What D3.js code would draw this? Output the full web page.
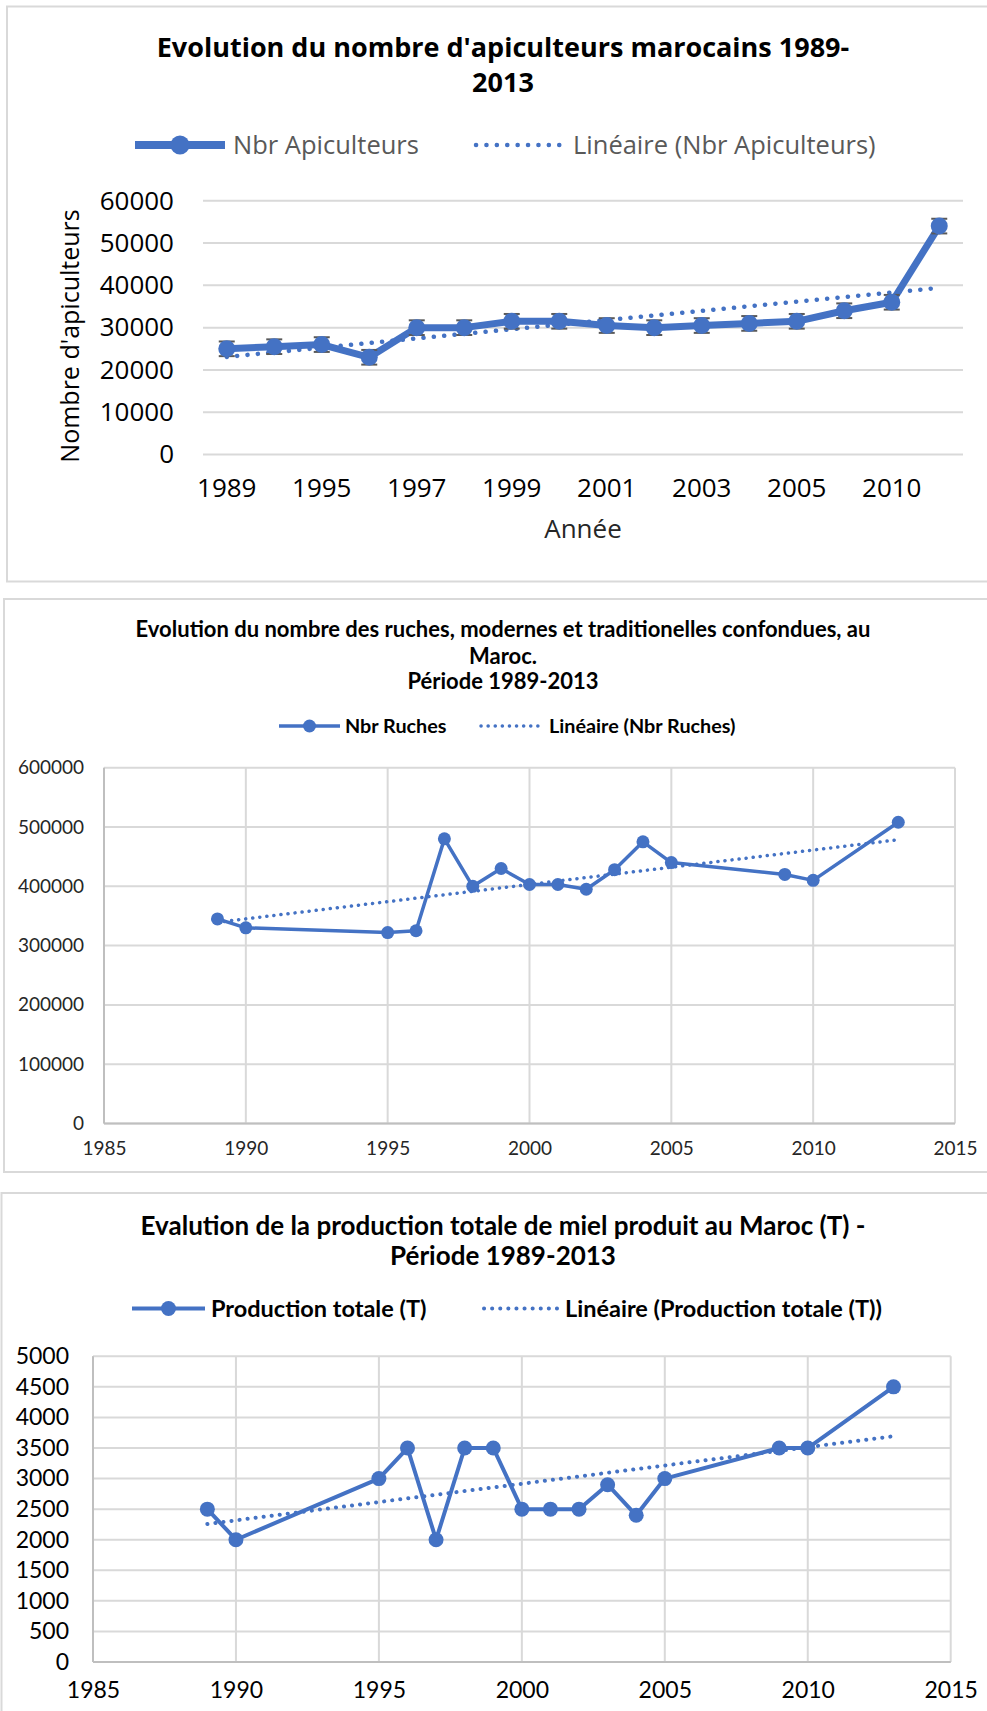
<!DOCTYPE html>
<html>
<head>
<meta charset="utf-8">
<script src="https://cdn.jsdelivr.net/npm/d3@7"></script>
<style>
  body { margin: 0; background: #fff; }
  svg { display: block; }
</style>
</head>
<body>
<div id="charts"></div>
<script>

// data
var years = [1989, 1990, 1995, 1996, 1997, 1998, 1999, 2000, 2001, 2002, 2003, 2004, 2005, 2009, 2010, 2013];
var apiculteurs = [25000, 25500, 26000, 23000, 30000, 30000, 31500, 31500, 30500, 30000, 30500, 31000, 31500, 34000, 36000, 54000];
var ruches = [345000, 330000, 322000, 325000, 480000, 400000, 430000, 403000, 403000, 395000, 428000, 475000, 440000, 420000, 410000, 508000];
var production = [2500, 2000, 3000, 3500, 2000, 3500, 3500, 2500, 2500, 2500, 2900, 2400, 3000, 3500, 3500, 4500];

var apiTicks = [0, 10000, 20000, 30000, 40000, 50000, 60000];
var apiYearLabels = ["1989", "1995", "1997", "1999", "2001", "2003", "2005", "2010"];
var ruchesTicks = [0, 100000, 200000, 300000, 400000, 500000, 600000];
var prodTicks = [0, 500, 1000, 1500, 2000, 2500, 3000, 3500, 4000, 4500, 5000];
var yearTicks = [1985, 1990, 1995, 2000, 2005, 2010, 2015];

var blue = "#4472C4";
var grid = "#d9d9d9";

var width = 987;
var height = 1711;

var svg = d3.select("#charts")
    .append("svg")
    .attr("width", width)
    .attr("height", height)
    .style("background", "#fff");

// least squares, like the excel "Linéaire" trendline
var linearFit = (xs, ys) => {
    let mx = d3.mean(xs), my = d3.mean(ys);
    let sxy = d3.sum(xs, (x, i) => (x - mx) * (ys[i] - my));
    let sxx = d3.sum(xs, x => (x - mx) * (x - mx));
    let slope = sxy / sxx;
    return x => my + slope * (x - mx);
};

var chartBox = (x, y, w, h) => {
    svg.append("rect")
        .attr("x", x).attr("y", y)
        .attr("width", w).attr("height", h)
        .attr("fill", "#fff")
        .attr("stroke", grid)
        .attr("stroke-width", 2);
};

var titleLines = (lines, cx, ys, size, font, color) => {
    lines.forEach((t, i) => {
        svg.append("text")
            .attr("x", cx).attr("y", ys[i])
            .attr("dy", "0.35em")
            .attr("text-anchor", "middle")
            .style("font-family", font)
            .style("font-weight", "bold")
            .style("font-size", size + "px")
            .attr("fill", color)
            .text(t);
    });
};

var legend = (y, lx, tx, dx, dtx, name, trendName, opts) => {
    let g = svg.append("g");
    g.append("line")
        .attr("x1", lx[0]).attr("x2", lx[1])
        .attr("y1", y).attr("y2", y)
        .attr("stroke", blue)
        .attr("stroke-width", opts.lineWidth);
    g.append("circle")
        .attr("cx", (lx[0] + lx[1]) / 2).attr("cy", y)
        .attr("r", opts.r)
        .attr("fill", blue);
    g.append("line")
        .attr("x1", dx[0]).attr("x2", dx[1])
        .attr("y1", y).attr("y2", y)
        .attr("stroke", blue)
        .attr("stroke-width", opts.dotWidth)
        .attr("stroke-linecap", "round")
        .attr("stroke-dasharray", opts.dash);
    [[tx, name], [dtx, trendName]].forEach(d => {
        g.append("text")
            .attr("x", d[0]).attr("y", y)
            .attr("dy", "0.35em")
            .style("font-family", opts.font)
            .style("font-weight", opts.weight)
            .style("font-size", opts.size + "px")
            .attr("fill", opts.color)
            .text(d[1]);
    });
};

// ---------- chart 1 : apiculteurs (category axis) ----------
chartBox(7, 6.5, 1000, 575);

titleLines(["Evolution du nombre d'apiculteurs marocains 1989-", "2013"],
    503, [48, 83], 27, "Open Sans", "#000");

legend(145, [135, 225], 233, [476, 563], 573,
    "Nbr Apiculteurs", "Linéaire (Nbr Apiculteurs)",
    { lineWidth: 8, r: 9.5, dotWidth: 4.5, dash: "0.1 10.3", font: "Open Sans", weight: "normal", size: 25.5, color: "#595959" });

let x1 = d3.scaleBand()
    .domain(years.map(String))
    .range([203, 963]);

let y1 = d3.scaleLinear()
    .domain([0, 60000])
    .range([454.6, 200.7]);

let g1 = svg.append("g");

g1.append("g")
    .selectAll("line")
    .data(apiTicks)
    .enter()
    .append("line")
    .attr("x1", 203).attr("x2", 963)
    .attr("y1", d => y1(d)).attr("y2", d => y1(d))
    .attr("stroke", grid)
    .attr("stroke-width", 2);

g1.append("g")
    .attr("transform", "translate(174,0)")
    .call(d3.axisLeft(y1).tickValues(apiTicks).tickSize(0).tickPadding(0).tickFormat(d3.format("d")))
    .call(g => g.select(".domain").remove())
    .selectAll("text")
    .style("font-family", "Open Sans")
    .style("font-size", "26px")
    .attr("fill", "#000");

g1.append("g")
    .attr("transform", "translate(0,487.5)")
    .call(d3.axisBottom(x1).tickValues(apiYearLabels).tickSize(0).tickPadding(0))
    .call(g => g.select(".domain").remove())
    .selectAll("text")
    .attr("dy", "0.35em")
    .style("font-family", "Open Sans")
    .style("font-size", "26px")
    .attr("fill", "#000");

g1.append("text")
    .attr("x", 583).attr("y", 528.6)
    .attr("dy", "0.35em")
    .attr("text-anchor", "middle")
    .style("font-family", "Open Sans")
    .style("font-size", "26px")
    .attr("fill", "#262626")
    .text("Année");

g1.append("text")
    .attr("transform", "translate(70,336) rotate(-90)")
    .attr("dy", "0.35em")
    .attr("text-anchor", "middle")
    .style("font-family", "Open Sans")
    .style("font-size", "25px")
    .attr("fill", "#000")
    .text("Nombre d'apiculteurs");

let idx = years.map((d, i) => i + 1);
let trend1 = linearFit(idx, apiculteurs);
let cx1 = i => x1(String(years[i])) + x1.bandwidth() / 2;

g1.append("line")
    .attr("x1", cx1(0)).attr("x2", cx1(years.length - 1))
    .attr("y1", y1(trend1(1))).attr("y2", y1(trend1(years.length)))
    .attr("stroke", blue)
    .attr("stroke-width", 4.5)
    .attr("stroke-linecap", "round")
    .attr("stroke-dasharray", "0.1 10.3");

g1.append("path")
    .datum(apiculteurs)
    .attr("fill", "none")
    .attr("stroke", blue)
    .attr("stroke-width", 7)
    .attr("stroke-linejoin", "round")
    .attr("d", d3.line().x((d, i) => cx1(i)).y(d => y1(d)));

// standard error bars
let se = d3.deviation(apiculteurs) / Math.sqrt(apiculteurs.length);
let err = g1.append("g")
    .selectAll("g")
    .data(apiculteurs)
    .enter()
    .append("g")
    .attr("stroke", "#595959")
    .attr("stroke-width", 2);
err.append("line")
    .attr("x1", (d, i) => cx1(i)).attr("x2", (d, i) => cx1(i))
    .attr("y1", d => y1(d + se)).attr("y2", d => y1(d - se));
[1, -1].forEach(s => {
    err.append("line")
        .attr("x1", (d, i) => cx1(i) - 8).attr("x2", (d, i) => cx1(i) + 8)
        .attr("y1", d => y1(d + s * se)).attr("y2", d => y1(d + s * se));
});

g1.append("g")
    .selectAll("circle")
    .data(apiculteurs)
    .enter()
    .append("circle")
    .attr("cx", (d, i) => cx1(i))
    .attr("cy", d => y1(d))
    .attr("r", 8.5)
    .attr("fill", blue);

// ---------- scatter charts 2 and 3 ----------
var scatter = (o) => {
    let x = d3.scaleLinear().domain([1985, 2015]).range([o.left, o.right]);
    let y = d3.scaleLinear().domain([0, o.max]).range([o.bottom, o.top]);
    let g = svg.append("g");

    g.append("g")
        .selectAll("line")
        .data(o.ticks)
        .enter()
        .append("line")
        .attr("x1", o.left).attr("x2", o.right)
        .attr("y1", d => y(d)).attr("y2", d => y(d))
        .attr("stroke", grid)
        .attr("stroke-width", 2);

    g.append("g")
        .selectAll("line")
        .data(yearTicks)
        .enter()
        .append("line")
        .attr("x1", d => x(d)).attr("x2", d => x(d))
        .attr("y1", o.top).attr("y2", o.bottom)
        .attr("stroke", grid)
        .attr("stroke-width", 2);

    // axis lines
    g.append("line")
        .attr("x1", o.left).attr("x2", o.left)
        .attr("y1", o.top).attr("y2", o.bottom)
        .attr("stroke", "#bfbfbf").attr("stroke-width", 2);
    g.append("line")
        .attr("x1", o.left).attr("x2", o.right)
        .attr("y1", o.bottom).attr("y2", o.bottom)
        .attr("stroke", "#bfbfbf").attr("stroke-width", 2);

    g.append("g")
        .attr("transform", "translate(" + o.yLabelX + ",0)")
        .call(d3.axisLeft(y).tickValues(o.ticks).tickSize(0).tickPadding(0).tickFormat(d3.format("d")))
        .call(a => a.select(".domain").remove())
        .selectAll("text")
        .style("font-family", o.font)
        .style("font-size", o.tickSize + "px")
        .attr("fill", o.tickColor);

    g.append("g")
        .attr("transform", "translate(0," + o.xLabelY + ")")
        .call(d3.axisBottom(x).tickValues(yearTicks).tickSize(0).tickPadding(0).tickFormat(d3.format("d")))
        .call(a => a.select(".domain").remove())
        .selectAll("text")
        .attr("dy", "0.35em")
        .style("font-family", o.font)
        .style("font-size", o.tickSize + "px")
        .attr("fill", o.tickColor);

    let fit = linearFit(years, o.values);
    g.append("line")
        .attr("x1", x(years[0])).attr("x2", x(years[years.length - 1]))
        .attr("y1", y(fit(years[0]))).attr("y2", y(fit(years[years.length - 1])))
        .attr("stroke", blue)
        .attr("stroke-width", o.dotWidth)
        .attr("stroke-linecap", "round")
        .attr("stroke-dasharray", o.dash);

    g.append("path")
        .datum(o.values)
        .attr("fill", "none")
        .attr("stroke", blue)
        .attr("stroke-width", o.lineWidth)
        .attr("stroke-linejoin", "round")
        .attr("d", d3.line().x((d, i) => x(years[i])).y(d => y(d)));

    g.append("g")
        .selectAll("circle")
        .data(o.values)
        .enter()
        .append("circle")
        .attr("cx", (d, i) => x(years[i]))
        .attr("cy", d => y(d))
        .attr("r", o.r)
        .attr("fill", blue);
};

// chart 2 : ruches
chartBox(4, 599, 1000, 573);

titleLines(["Evolution du nombre des ruches, modernes et traditionelles confondues, au", "Maroc.", "Période 1989-2013"],
    503, [629, 656, 681], 22, "Lato", "#000");

legend(726, [279, 340], 345, [481, 542], 549,
    "Nbr Ruches", "Linéaire (Nbr Ruches)",
    { lineWidth: 3.5, r: 6.5, dotWidth: 3.5, dash: "0.1 7", font: "Lato", weight: "bold", size: 19.8, color: "#000" });

scatter({
    values: ruches, ticks: ruchesTicks, max: 600000,
    left: 104, right: 955, top: 767.7, bottom: 1123.5,
    yLabelX: 84, xLabelY: 1148, font: "Lato", tickSize: 19, tickColor: "#262626",
    lineWidth: 3.5, r: 6.5, dotWidth: 3.5, dash: "0.1 7"
});

// chart 3 : production
chartBox(1.5, 1193, 1000, 600);

titleLines(["Evalution de la production totale de miel produit au Maroc (T) -", "Période 1989-2013"],
    503, [1226, 1256], 26, "Lato", "#000");

legend(1308.5, [132, 205], 211, [484, 557], 565,
    "Production totale (T)", "Linéaire (Production totale (T))",
    { lineWidth: 4, r: 7.5, dotWidth: 4, dash: "0.1 8", font: "Lato", weight: "bold", size: 23.5, color: "#000" });

scatter({
    values: production, ticks: prodTicks, max: 5000,
    left: 93, right: 950.7, top: 1356.3, bottom: 1662,
    yLabelX: 69, xLabelY: 1690, font: "Lato", tickSize: 23, tickColor: "#000",
    lineWidth: 4, r: 7.5, dotWidth: 4, dash: "0.1 8"
});

</script>
</body>
</html>
